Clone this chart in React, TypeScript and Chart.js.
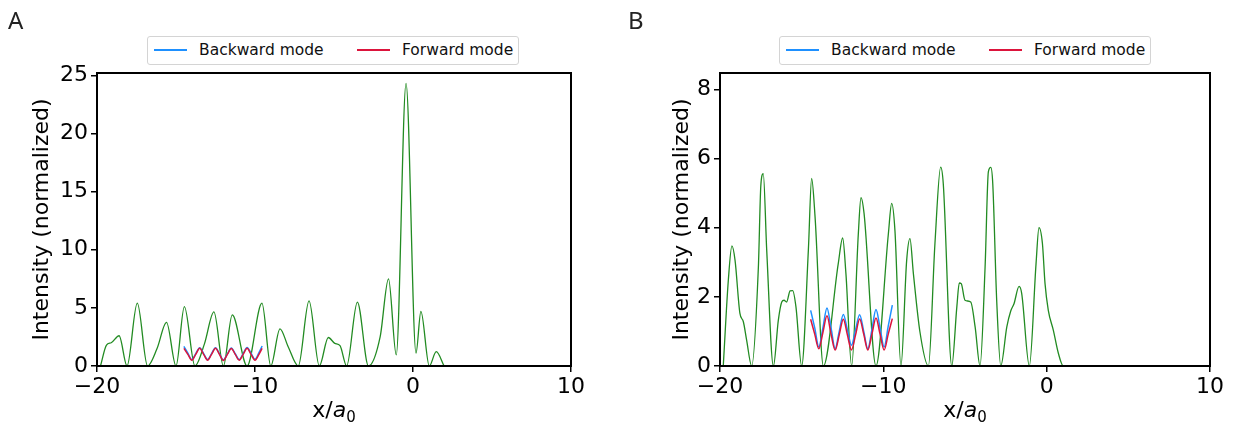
import React, { useEffect, useRef } from "react";
import { Chart, registerables } from "chart.js";
Chart.register(...registerables);

// ---------- data ----------
const xTickValues = [-20, -10, 0, 10];
const panelAYTicks = [0, 5, 10, 15, 20, 25];
const panelBYTicks = [0, 2, 4, 6, 8];

// Panel A: total intensity (green)
const panelAGreenX = [-19.78, -19.4, -19.1, -18.6, -18.1, -17.45, -16.8, -16.2, -15.6, -15.0, -14.47, -13.8, -13.2, -12.6, -12.0, -11.44, -10.5, -9.56, -9.0, -8.42, -7.9, -7.26, -6.58, -5.93, -5.36, -4.95, -4.62, -4.2, -3.52, -2.82, -2.08, -1.55, -1.06, -0.44, 0.19, 0.5, 1.03, 1.47, 1.97];
const panelAGreenY = [0, 1.8, 2.0, 2.6, 0, 5.4, 0, 1.5, 3.75, 0, 5.1, 0, 1.9, 4.65, 0, 4.4, 0, 5.4, 0, 3.2, 1.66, 0, 5.6, 0, 2.45, 1.95, 1.75, 0, 5.5, 0, 2.5, 7.5, 0.95, 24.3, 1.1, 4.7, 0, 1.23, 0];

// Panel A: modes
const panelAModeX = [-14.5, -14.25, -14.0, -13.75, -13.5, -13.25, -13.0, -12.75, -12.5, -12.25, -12.0, -11.75, -11.5, -11.25, -11.0, -10.75, -10.5, -10.25, -10.0, -9.75, -9.55];
const panelABackwardY = [1.68, 1.1, 0.55, 1.06, 1.58, 1.06, 0.55, 1.06, 1.58, 1.05, 0.52, 1.04, 1.55, 1.05, 0.55, 1.07, 1.6, 1.1, 0.58, 1.15, 1.72];
const panelAForwardY = [1.52, 1.0, 0.5, 1.0, 1.52, 1.0, 0.5, 1.0, 1.52, 1.0, 0.48, 1.0, 1.5, 1.0, 0.5, 1.0, 1.52, 1.0, 0.5, 1.0, 1.52];

// Panel B: total intensity (green)
const panelBGreenX = [-19.8, -19.49, -19.27, -19.08, -18.78, -18.57, -18.37, -18.06, -17.65, -17.5, -17.35, -17.14, -16.73, -16.43, -16.22, -16.08, -15.92, -15.71, -15.55, -15.35, -15.0, -14.59, -14.39, -14.18, -13.67, -12.76, -12.49, -12.29, -11.94, -11.53, -11.37, -11.18, -10.45, -9.69, -9.49, -9.29, -8.92, -8.57, -8.37, -8.16, -7.76, -7.24, -6.84, -6.49, -6.33, -5.81, -5.5, -5.35, -5.23, -5.0, -4.65, -4.38, -4.08, -3.77, -3.57, -3.42, -3.3, -3.06, -2.81, -2.44, -2.2, -2.0, -1.69, -1.53, -1.06, -0.65, -0.47, -0.26, -0.1, 0.1, 0.41, 0.72, 1.02, 1.3];
const panelBGreenY = [0, 2.48, 3.47, 3.06, 1.52, 1.28, 0.75, 0, 2.86, 5.22, 5.56, 3.35, 0, 1.32, 1.85, 1.9, 1.85, 2.17, 2.18, 1.71, 0, 3.35, 5.42, 4.31, 0, 2.96, 3.7, 2.67, 0, 3.83, 4.87, 4.41, 0, 3.83, 4.7, 3.92, 0, 3.06, 3.68, 2.67, 0.99, 0, 3.54, 5.75, 5.27, 0, 1.71, 2.4, 2.38, 1.9, 1.85, 1.13, 0, 2.86, 5.61, 5.74, 5.27, 1.9, 0, 1.13, 1.59, 1.8, 2.3, 2.1, 0, 2.96, 4.0, 3.54, 2.38, 1.61, 1.03, 0.36, 0, 0];

// Panel B: modes
const panelBModeX = [-14.45, -14.2, -13.95, -13.7, -13.45, -13.2, -12.95, -12.7, -12.45, -12.2, -11.95, -11.7, -11.45, -11.2, -10.95, -10.7, -10.45, -10.2, -9.95, -9.7, -9.45];
const panelBBackwardY = [1.61, 1.1, 0.55, 1.1, 1.68, 1.1, 0.5, 1.0, 1.49, 1.05, 0.6, 1.05, 1.48, 1.0, 0.5, 1.05, 1.63, 1.1, 0.55, 1.15, 1.76];
const panelBForwardY = [1.35, 0.92, 0.5, 0.97, 1.45, 0.92, 0.46, 0.9, 1.35, 0.9, 0.46, 0.9, 1.36, 0.92, 0.46, 0.92, 1.39, 0.92, 0.46, 0.92, 1.37];

const legendLabels = ["Backward mode", "Forward mode"];
const yAxisTitle = "Intensity (normalized)";

const GREEN = "#228B22";
const BLUE = "#1E90FF";
const RED = "#DC143C";
const AXIS_FONT = "'DejaVu Sans', sans-serif";
const LETTER_FONT = "'Noto Sans', sans-serif";

const pts = (xs: number[], ys: number[]) => xs.map((x, i) => ({ x, y: ys[i] }));
const fmt = (v: number) => (v < 0 ? "\u2212" + Math.abs(v) : String(v));

const framePlugin = {
  id: "frame",
  afterDraw(chart: any) {
    const { ctx, chartArea } = chart;
    ctx.save();
    ctx.strokeStyle = "#000";
    ctx.lineWidth = 2;
    ctx.strokeRect(chartArea.left, chartArea.top, chartArea.right - chartArea.left, chartArea.bottom - chartArea.top);
    ctx.restore();
  },
};

type PanelProps = {
  left: number;
  width: number;
  axisWidth: number;
  padRight: number;
  yMax: number;
  yTicks: number[];
  titlePad: number;
  greenX: number[];
  greenY: number[];
  modeX: number[];
  backY: number[];
  fwdY: number[];
  letter: string;
  legendLeft: number;
};

const legendOffsets = [6, 51, 209, 254];

function Panel(p: PanelProps) {
  const ref = useRef<HTMLCanvasElement>(null);
  useEffect(() => {
    const line = { pointRadius: 0, fill: false, cubicInterpolationMode: "monotone" as const };
    const chart = new Chart(ref.current as HTMLCanvasElement, {
      type: "line",
      data: {
        datasets: [
          { ...line, label: legendLabels[1], data: pts(p.modeX, p.fwdY), borderColor: RED, borderWidth: 1.5 },
          { ...line, label: legendLabels[0], data: pts(p.modeX, p.backY), borderColor: BLUE, borderWidth: 1.5 },
          { ...line, label: "total", data: pts(p.greenX, p.greenY), borderColor: GREEN, borderWidth: 1.3 },
        ],
      },
      options: {
        responsive: false,
        animation: false,
        events: [],
        layout: { padding: { left: 0, right: p.padRight, top: 73, bottom: 0 } },
        plugins: { legend: { display: false }, tooltip: { enabled: false } },
        scales: {
          x: {
            type: "linear",
            min: -20,
            max: 10,
            afterBuildTicks: (s: any) => {
              s.ticks = xTickValues.map((v) => ({ value: v }));
            },
            afterFit: (s: any) => {
              s.height = 62;
            },
            grid: { drawOnChartArea: false, drawTicks: true, tickLength: 6, color: "#000", lineWidth: 1.5 },
            border: { display: false },
            ticks: { color: "#000", font: { family: AXIS_FONT, size: 22 }, padding: 2, maxRotation: 0, autoSkip: false, callback: (v: any) => fmt(Number(v)) },
          },
          y: {
            type: "linear",
            min: 0,
            max: p.yMax,
            afterBuildTicks: (s: any) => {
              s.ticks = p.yTicks.map((v) => ({ value: v }));
            },
            afterFit: (s: any) => {
              s.width = p.axisWidth;
            },
            grid: { drawOnChartArea: false, drawTicks: true, tickLength: 6, color: "#000", lineWidth: 1.5 },
            border: { display: false },
            ticks: { color: "#000", font: { family: AXIS_FONT, size: 22 }, padding: 3, autoSkip: false, callback: (v: any) => fmt(Number(v)) },
            title: { display: true, text: yAxisTitle, color: "#000", font: { family: AXIS_FONT, size: 22 }, padding: { top: p.titlePad, bottom: 0 } },
          },
        },
      },
      plugins: [framePlugin],
    } as any);
    return () => chart.destroy();
  }, []);

  const plotLeft = p.axisWidth;
  const plotRight = p.width - p.padRight;
  return (
    <div style={{ position: "absolute", left: p.left, top: 0, width: p.width, height: 428 }}>
      <canvas ref={ref} width={p.width} height={428} style={{ position: "absolute", left: 0, top: 0, width: p.width, height: 428 }} />
      <div style={{ position: "absolute", left: 8, top: 8, fontFamily: LETTER_FONT, fontSize: 24, lineHeight: 1, color: "#222" }}>{p.letter}</div>
      <div
        style={{
          position: "absolute",
          left: p.legendLeft,
          top: 36,
          width: 372,
          height: 29,
          border: "1px solid #d4d4d4",
          borderRadius: 3,
          boxSizing: "border-box",
          background: "#fff",
          fontFamily: AXIS_FONT,
          fontSize: 15.5,
          color: "#111",
        }}
      >
        <div style={{ position: "absolute", left: legendOffsets[0], top: 12, width: 33, height: 1.5, background: BLUE }} />
        <div style={{ position: "absolute", left: legendOffsets[1], top: 3, lineHeight: "20px", whiteSpace: "nowrap" }}>{legendLabels[0]}</div>
        <div style={{ position: "absolute", left: legendOffsets[2], top: 12, width: 33, height: 1.5, background: RED }} />
        <div style={{ position: "absolute", left: legendOffsets[3], top: 3, lineHeight: "20px", whiteSpace: "nowrap" }}>{legendLabels[1]}</div>
      </div>
      <div
        style={{
          position: "absolute",
          left: plotLeft,
          width: plotRight - plotLeft,
          top: 397,
          textAlign: "center",
          fontFamily: AXIS_FONT,
          fontSize: 22,
          lineHeight: "26px",
          color: "#000",
          whiteSpace: "nowrap",
        }}
      >
        x/<i>a</i>
        <sub style={{ fontSize: 15, verticalAlign: "-5px" }}>0</sub>
      </div>
    </div>
  );
}

export default function App() {
  return (
    <div style={{ position: "absolute", left: 0, top: 0, width: 1237, height: 428, background: "#fff", overflow: "hidden" }}>
      <Panel
        left={0}
        width={620}
        axisWidth={97}
        padRight={49}
        yMax={25.2}
        yTicks={panelAYTicks}
        titlePad={29}
        greenX={panelAGreenX}
        greenY={panelAGreenY}
        modeX={panelAModeX}
        backY={panelABackwardY}
        fwdY={panelAForwardY}
        letter="A"
        legendLeft={147}
      />
      <Panel
        left={620}
        width={617}
        axisWidth={100}
        padRight={27}
        yMax={8.47}
        yTicks={panelBYTicks}
        titlePad={49}
        greenX={panelBGreenX}
        greenY={panelBGreenY}
        modeX={panelBModeX}
        backY={panelBBackwardY}
        fwdY={panelBForwardY}
        letter="B"
        legendLeft={159}
      />
    </div>
  );
}
